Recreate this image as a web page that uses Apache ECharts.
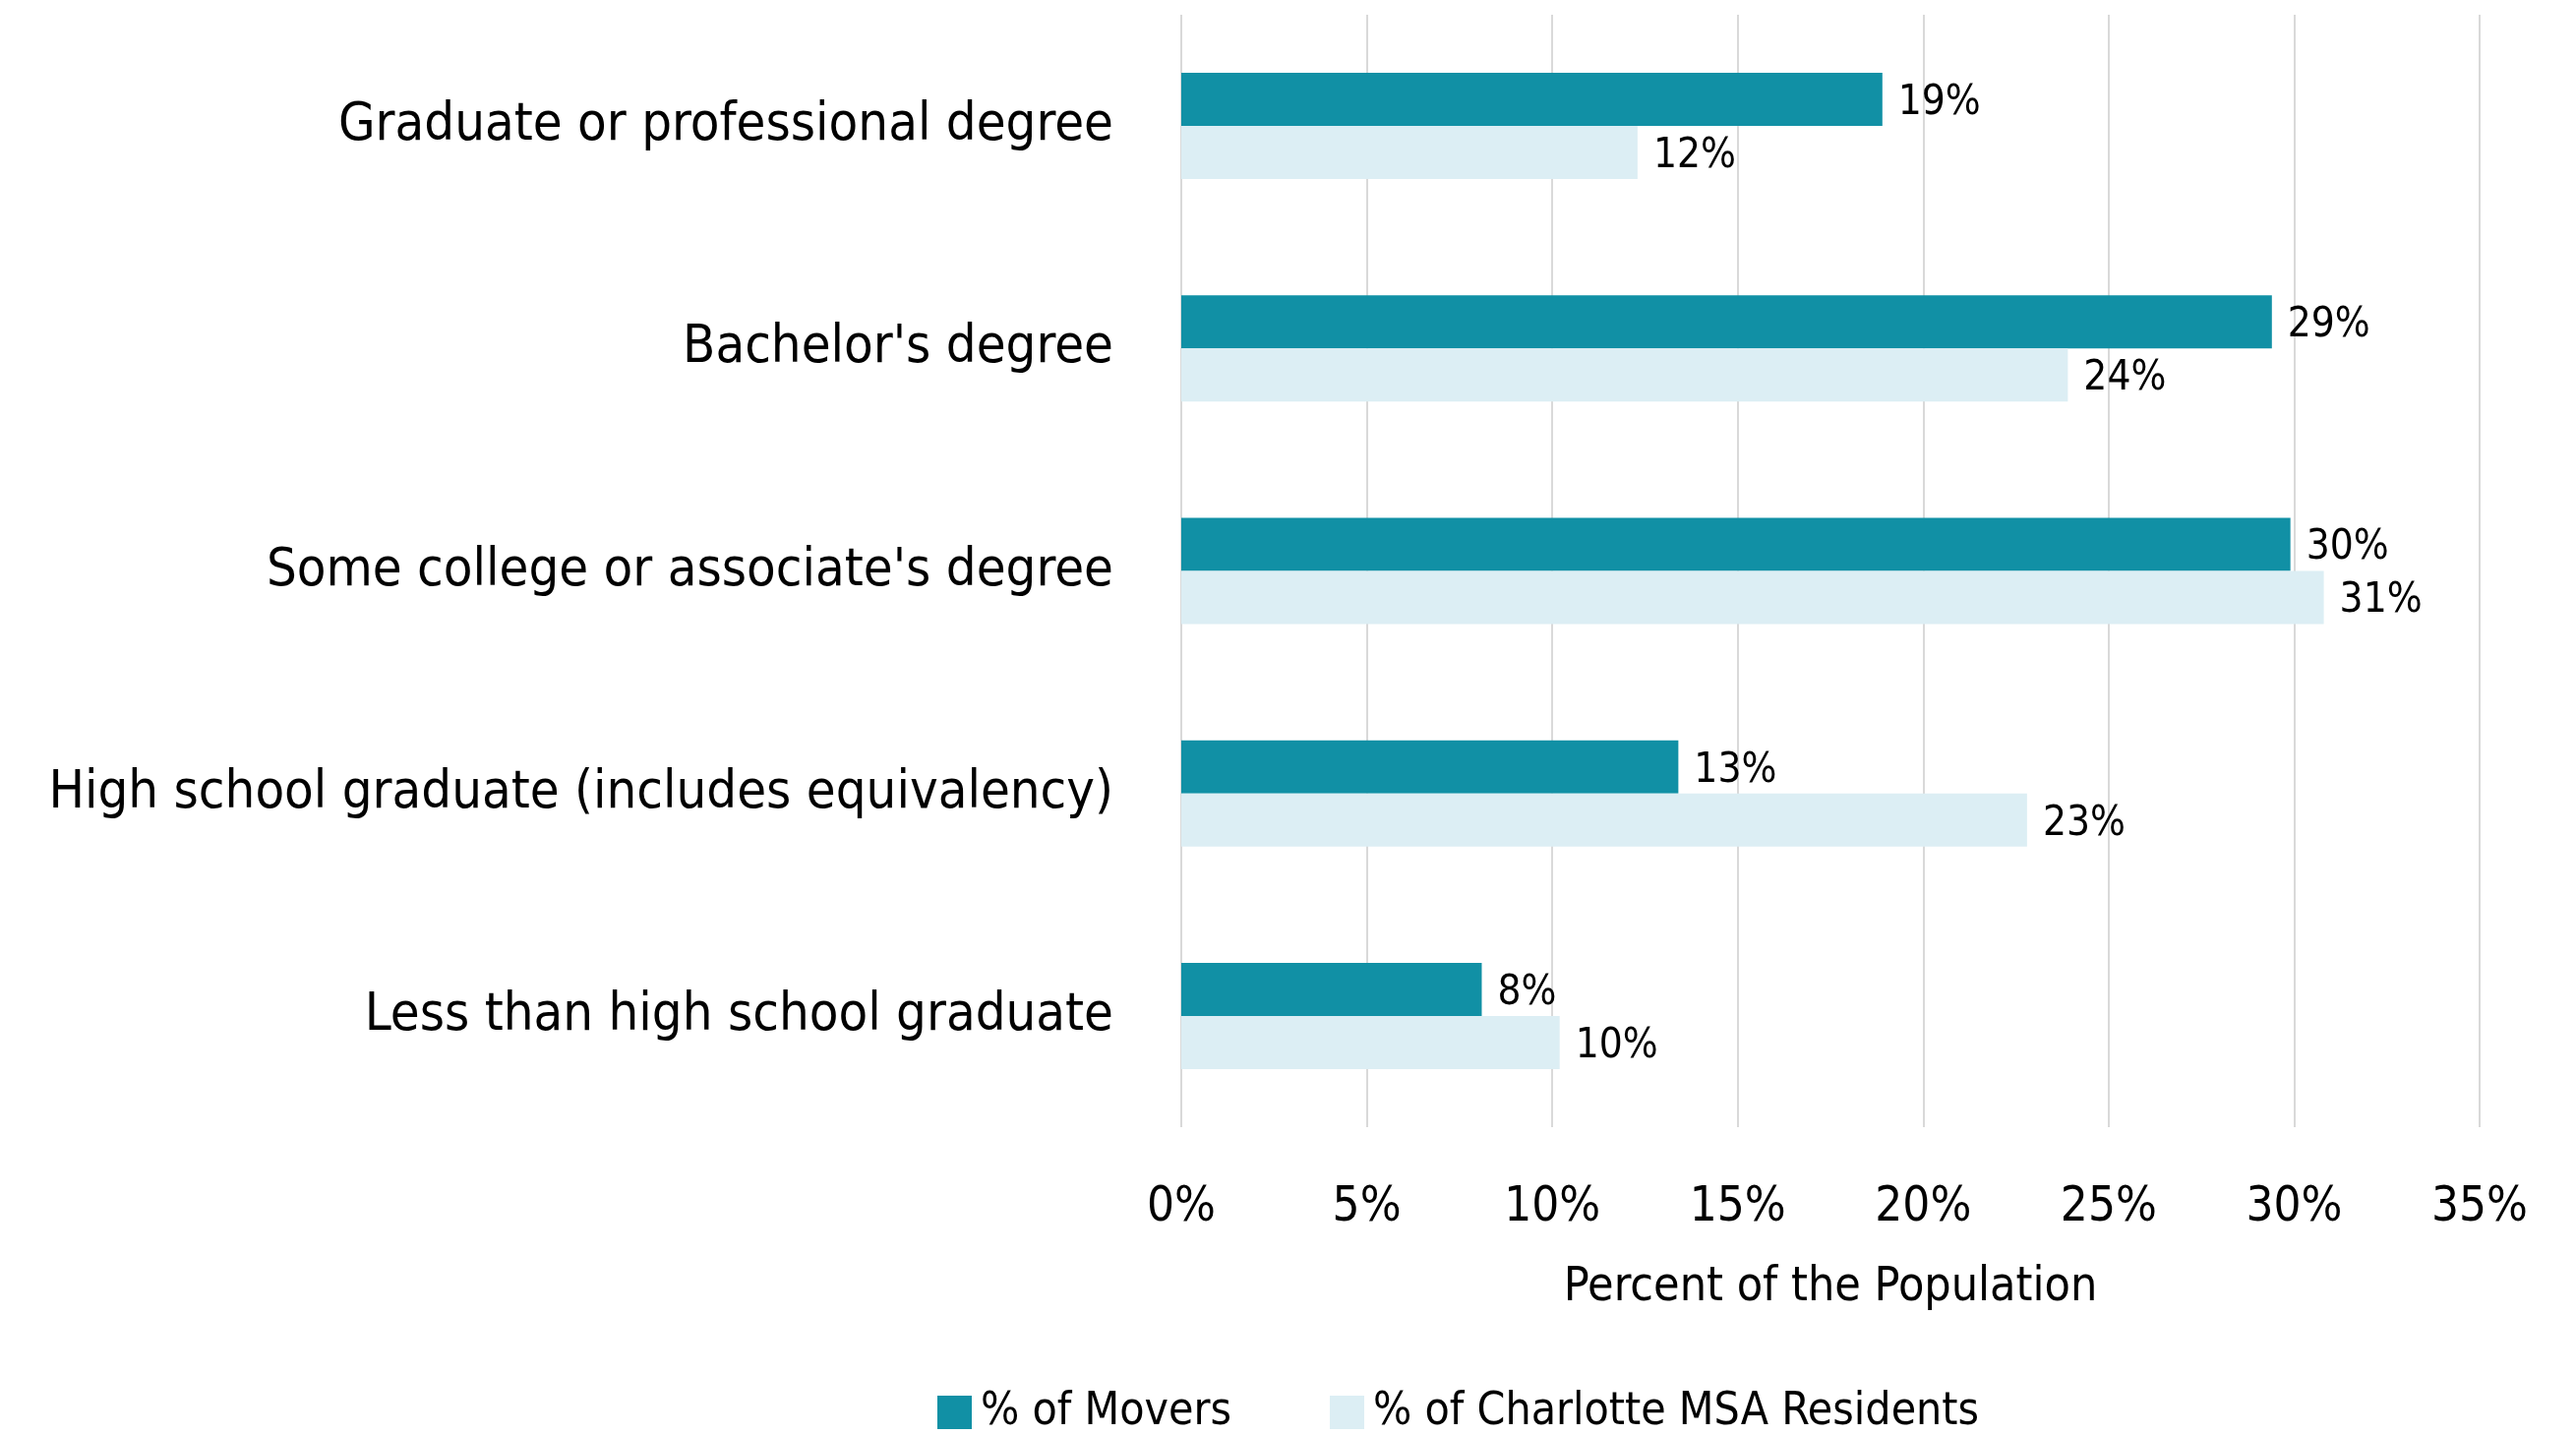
<!DOCTYPE html>
<html>
<head>
<meta charset="utf-8">
<script src="https://cdn.jsdelivr.net/npm/echarts@6/dist/echarts.min.js"></script>
<style>
  html, body { margin: 0; padding: 0; background: #fff; }
  #chart { width: 2619px; height: 1459px; }
</style>
</head>
<body>
<div id="chart"></div>
<script>
// 数据
var categories = [
    "Graduate or professional degree",
    "Bachelor's degree",
    "Some college or associate's degree",
    "High school graduate (includes equivalency)",
    "Less than high school graduate"
];
var movers = [18.9, 29.4, 29.9, 13.4, 8.1];
var residents = [12.3, 23.9, 30.8, 22.8, 10.2];
var seriesNames = ["% of Movers", "% of Charlotte MSA Residents"];

var FONT = '"DejaVu Sans Condensed", "Liberation Sans Narrow", sans-serif';

var chart = echarts.init(document.getElementById('chart'));

function labelCfg() {
    return {
        show: true,
        position: 'right',
        distance: 16,
        offset: [0, 4],
        fontFamily: FONT,
        fontSize: 42,
        color: '#000',
        formatter: function (p) { return Math.round(p.value) + '%'; }
    };
}

var option = {
    backgroundColor: '#fff',
    animation: false,
    grid: { left: 1201, right: 98, top: 15, bottom: 313, outerBoundsMode: 'none', containLabel: false },
    legend: {
        left: 948,
        top: 1408,
        itemWidth: 35,
        itemHeight: 34,
        itemGap: 100,
        icon: 'rect',
        textStyle: { fontFamily: FONT, fontSize: 46, color: '#000', padding: [0, 0, 0, 4] },
        data: seriesNames
    },
    xAxis: {
        type: 'value',
        min: 0,
        max: 35,
        interval: 5,
        name: 'Percent of the Population',
        nameLocation: 'middle',
        nameGap: 140,
        nameTextStyle: { fontFamily: FONT, fontSize: 48, color: '#000' },
        axisLine: { show: false },
        axisTick: { show: false },
        axisLabel: {
            margin: 58,
            fontFamily: FONT,
            fontSize: 49,
            color: '#000',
            formatter: '{value}%'
        },
        splitLine: { show: true, lineStyle: { color: '#D9D9D9', width: 2 } }
    },
    yAxis: {
        type: 'category',
        inverse: true,
        data: categories,
        axisLine: { show: false },
        axisTick: { show: false },
        axisLabel: {
            margin: 69,
            fontFamily: FONT,
            fontSize: 54,
            color: '#000'
        }
    },
    series: [
        {
            name: seriesNames[0],
            type: 'bar',
            data: movers,
            barWidth: 54,
            barGap: '0%',
            itemStyle: { color: '#1190A5' },
            label: labelCfg()
        },
        {
            name: seriesNames[1],
            type: 'bar',
            data: residents,
            barWidth: 54,
            barGap: '0%',
            itemStyle: { color: '#DCEEF4' },
            label: labelCfg()
        }
    ]
};

chart.setOption(option);
</script>
</body>
</html>
